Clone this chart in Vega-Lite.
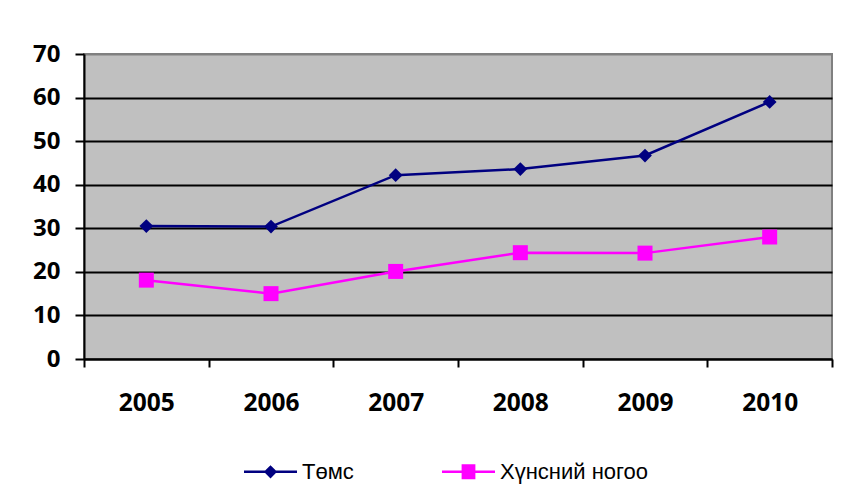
{
  "$schema": "https://vega.github.io/schema/vega-lite/v6.json",
  "width": 748,
  "height": 305,
  "autosize": {"type": "none"},
  "padding": {"left": 84, "top": 54, "right": 11, "bottom": 134},
  "background": "white",
  "config": {
    "view": {"fill": "#C0C0C0", "stroke": "#808080", "strokeWidth": 2},
    "font": "Liberation Sans"
  },
  "data": {
    "values": [
      {"year": "2005", "series": "Төмс", "value": 30.5},
      {"year": "2006", "series": "Төмс", "value": 30.4},
      {"year": "2007", "series": "Төмс", "value": 42.2},
      {"year": "2008", "series": "Төмс", "value": 43.6},
      {"year": "2009", "series": "Төмс", "value": 46.7},
      {"year": "2010", "series": "Төмс", "value": 59.0},
      {"year": "2005", "series": "Хүнсний ногоо", "value": 18.1},
      {"year": "2006", "series": "Хүнсний ногоо", "value": 15.0},
      {"year": "2007", "series": "Хүнсний ногоо", "value": 20.1},
      {"year": "2008", "series": "Хүнсний ногоо", "value": 24.4},
      {"year": "2009", "series": "Хүнсний ногоо", "value": 24.3},
      {"year": "2010", "series": "Хүнсний ногоо", "value": 28.0}
    ]
  },
  "encoding": {
    "x": {
      "field": "year",
      "type": "ordinal",
      "scale": {"paddingInner": 0, "paddingOuter": 0},
      "axis": {
        "title": null,
        "labelAngle": 0,
        "labelFont": "Open Sans",
        "labelFontWeight": "bold",
        "labelFontSize": 24.5,
        "labelColor": "black",
        "labelPadding": 24,
        "tickBand": "extent",
        "ticks": true,
        "tickSize": 8,
        "tickColor": "black",
        "tickWidth": 2,
        "domainColor": "black",
        "domainWidth": 2,
        "grid": false
      }
    },
    "y": {
      "field": "value",
      "type": "quantitative",
      "scale": {"domain": [0, 70], "nice": false},
      "axis": {
        "title": null,
        "values": [0, 10, 20, 30, 40, 50, 60, 70],
        "labelFont": "Open Sans",
        "labelFontWeight": "bold",
        "labelFontSize": 24,
        "labelColor": "black",
        "labelPadding": 15,
        "tickSize": 9,
        "tickColor": "black",
        "tickWidth": 2,
        "domainColor": "black",
        "domainWidth": 2,
        "grid": true,
        "gridColor": {"condition": {"test": "datum.value === 70", "value": "#808080"}, "value": "black"},
        "gridWidth": 2,
        "gridOpacity": 1
      }
    },
    "color": {
      "field": "series",
      "type": "nominal",
      "scale": {"domain": ["Төмс", "Хүнсний ногоо"], "range": ["#000080", "#FF00FF"]},
      "legend": {
        "orient": "none",
        "legendX": 160,
        "legendY": 391,
        "direction": "horizontal",
        "title": null,
        "symbolSize": 2809,
        "symbolType": "M-1,-0.045H1V0.045H-1Z",
        "symbolStrokeWidth": 0,
        "labelFont": "Liberation Sans",
        "labelFontSize": 22,
        "labelColor": "black",
        "labelOffset": 5,
        "columnPadding": 88,
        "labelLimit": 400,
        "encode": {
          "symbols": {
            "update": {
              "shape": {"signal": "datum.value === 'Төмс' ? 'M-1,-0.045H1V0.045H-1ZM0,-0.25L0.25,0L0,0.25L-0.25,0Z' : 'M-1,-0.045H1V0.045H-1ZM-0.26,-0.28H0.26V0.28H-0.26Z'"},
              "fill": {"signal": "datum.value === 'Төмс' ? '#000080' : '#FF00FF'"},
              "fillOpacity": {"value": 1},
              "opacity": {"value": 1},
              "strokeWidth": {"value": 0}
            }
          }
        }
      }
    }
  },
  "layer": [
    {"mark": {"type": "line", "strokeWidth": 2.5}},
    {
      "transform": [{"filter": "datum.series === 'Төмс'"}],
      "mark": {"type": "point", "filled": true, "opacity": 1, "shape": "diamond", "size": 190}
    },
    {
      "transform": [{"filter": "datum.series === 'Хүнсний ногоо'"}],
      "mark": {"type": "point", "filled": true, "opacity": 1, "shape": "square", "size": 225}
    }
  ]
}
